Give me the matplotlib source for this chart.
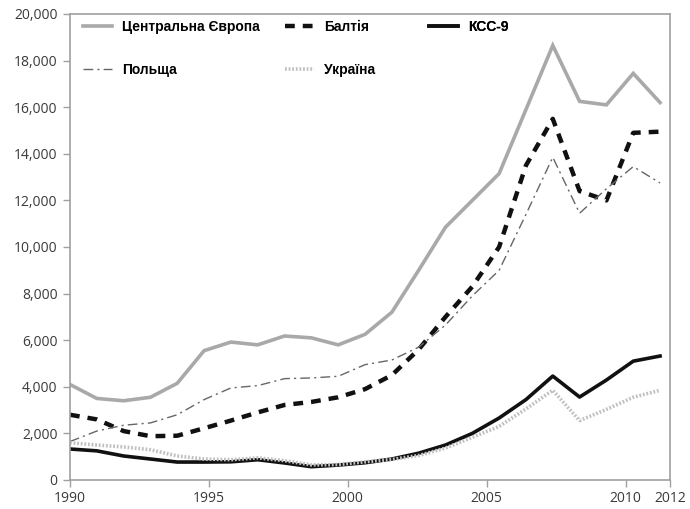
import matplotlib
matplotlib.use("Agg")
import matplotlib.pyplot as plt
import numpy as np

years = list(range(1990, 2013))
central_europe = [4100, 3500, 3400, 3550, 4150, 5550, 5920, 5800, 6180, 6100, 5800, 6250,
                  7200, 9000, 10850, 12000, 13150, 15900, 18650, 16250, 16100, 17450, 16200]
baltics = [2800, 2600, 2100, 1880, 1900, 2220, 2550, 2900, 3220, 3350, 3550, 3900,
           4500, 5600, 7000, 8300, 10000, 13500, 15500, 12400, 12000, 14900, 14950]
kcc9 = [1330, 1250, 1030, 900, 770, 770, 780, 870, 730, 570, 640, 740,
        900, 1150, 1500, 2000, 2660, 3450, 4460, 3560, 4290, 5100, 5320]
poland = [1650, 2100, 2350, 2450, 2800, 3450, 3950, 4050, 4350, 4380, 4450, 4950,
          5150, 5700, 6650, 7900, 9000, 11400, 13850, 11450, 12500, 13450, 12750]
ukraine = [1600, 1500, 1420, 1300, 1030, 900, 870, 950, 830, 650, 660, 780,
           880, 1050, 1370, 1830, 2300, 3050, 3850, 2550, 3030, 3550, 3850]

labels = ["Центральна Європа", "Балтія", "КСС-9", "Польща", "Україна"]
xtick_labels = ["1990", "1995", "2000", "2005", "2010", "2012"]
yticks = list(range(0, 20001, 2000))

fig = plt.figure(figsize=(6.9, 5.09), dpi=100)
ax = fig.add_axes([0.1014, 0.057, 0.8696, 0.9155])

l_ce, = ax.plot(years, central_europe, color="#a9a9a9", lw=2.6, solid_joinstyle="miter")
l_ba, = ax.plot(years, baltics, color="#111111", lw=3.2, dashes=(2.2, 1.8))
l_kc, = ax.plot(years, kcc9, color="#111111", lw=2.6)
l_po, = ax.plot(years, poland, color="#666666", lw=1.0, dashes=(7, 3, 1.5, 3))
l_uk, = ax.plot(years, ukraine, color="#c0c0c0", lw=2.6, dashes=(0.5, 0.5))

ax.set_xlim(1990, 2012.37)
ax.set_ylim(0, 20000)
ax.set_yticks(yticks)
ax.set_yticklabels([f"{v:,}" for v in yticks])
ax.set_xticks([])
for s in ax.spines.values():
    s.set_color("#a0a0a0")
    s.set_linewidth(1.2)
ax.tick_params(axis="y", direction="out", length=5, width=1, color="#a0a0a0",
               labelsize=10, labelcolor="#3a3a3a", pad=4)
for t in ax.get_yticklabels():
    t.set_fontfamily("Open Sans")

ax2 = ax.twiny()
ax2.set_xlim(1990, 2011.6)
ax2.xaxis.set_ticks_position("bottom")
ax2.xaxis.set_label_position("bottom")
ax2.set_xticks([1990, 1995, 2000, 2005, 2010, 2011.6])
ax2.set_xticklabels(xtick_labels)
ax2.tick_params(axis="x", direction="out", length=5, width=1, color="#a0a0a0",
                labelsize=10, labelcolor="#3a3a3a", pad=3)
for t in ax2.get_xticklabels():
    t.set_fontfamily("Open Sans")
for s in ax2.spines.values():
    s.set_visible(False)

leg_font = {"family": "Liberation Sans", "weight": "bold", "size": 10}
cols = [([l_ce, l_po], [labels[0], labels[3]], 0.008),
        ([l_ba, l_uk], [labels[1], labels[4]], 0.345),
        ([l_kc], [labels[2]], 0.585)]
for handles, labs, xpos in cols:
    lg = ax.legend(handles, labs, loc="upper left", bbox_to_anchor=(xpos, 1.005),
                   frameon=False, prop=leg_font, handlelength=2.1, handletextpad=0.7,
                   labelspacing=2.1, borderaxespad=0.2)
    ax.add_artist(lg)

fig.savefig("out.png", dpi=100)
